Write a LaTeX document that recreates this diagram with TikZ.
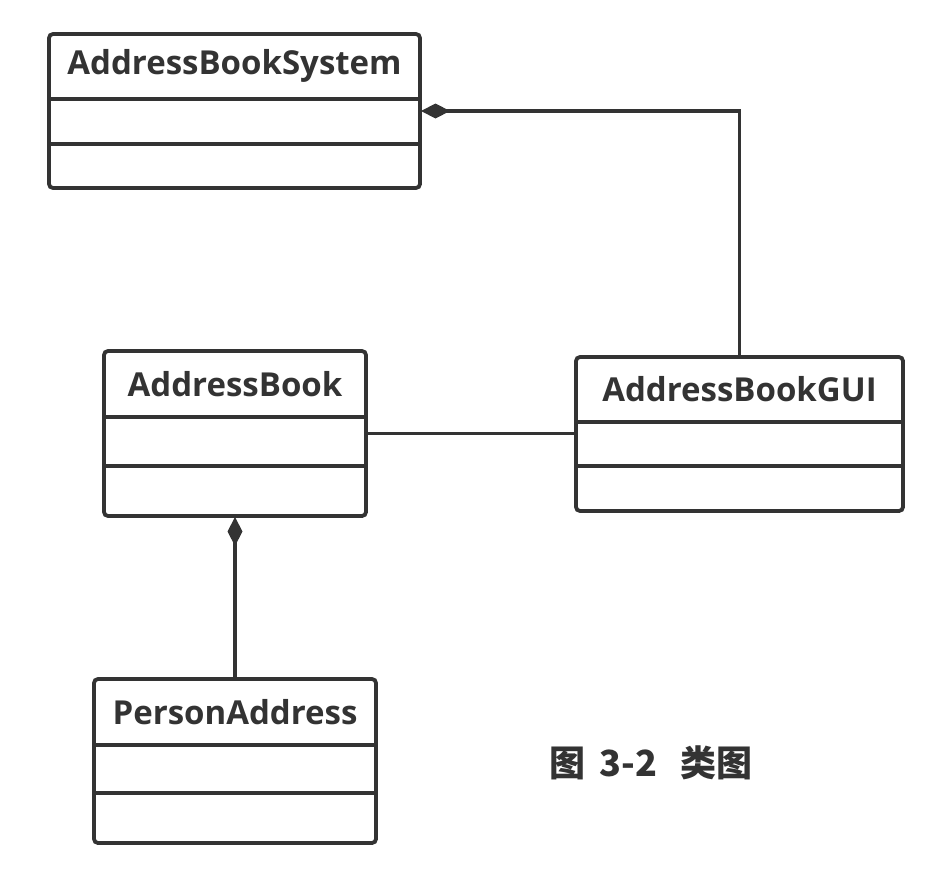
\documentclass[tikz,border=0pt]{standalone}
\usepackage{fontspec}
\setmainfont{Open Sans}
\newfontfamily\cjk{Noto Sans CJK SC}
\usetikzlibrary{arrows.meta,calc}
\definecolor{ink}{HTML}{333333}
\tikzset{
  umlbox/.style={draw=ink, line width=3.8pt, rounded corners=4pt, outer sep=0pt, inner sep=0pt, fill=white},
  divider/.style={draw=ink, line width=3.8pt},
  title/.style={text=ink, font=\fontsize{33}{40}\selectfont\bfseries, inner sep=0pt, anchor=center},
  link/.style={draw=ink, line width=3.6pt},
  comp/.style={link, -{Diamond[length=29pt, width=15pt, line join=miter]}, shorten >=1pt},
}
\begin{document}
\begin{tikzpicture}[x=1pt,y=-1pt]
\useasboundingbox (0,0) rectangle (946,878);
% AddressBookSystem
\node[umlbox, minimum width=371pt, minimum height=154pt] (sys) at (234.5,111) {};
\draw[divider] (49,99) -- (420,99);
\draw[divider] (49,144) -- (420,144);
\node[title] (sysT) at (234.5,66) {AddressBookSystem};
% AddressBook
\node[umlbox, minimum width=262pt, minimum height=165pt] (book) at (235,433.5) {};
\draw[divider] (104,417) -- (366,417);
\draw[divider] (104,466) -- (366,466);
\node[title] (bookT) at (235,384) {AddressBook};
% AddressBookGUI
\node[umlbox, minimum width=327pt, minimum height=154pt] (gui) at (739.5,434) {};
\draw[divider] (576,422) -- (903,422);
\draw[divider] (576,466) -- (903,466);
\node[title] (guiT) at (739.5,389) {AddressBookGUI};
% PersonAddress
\node[umlbox, minimum width=282pt, minimum height=164pt] (pa) at (235,761) {};
\draw[divider] (94,745) -- (376,745);
\draw[divider] (94,793) -- (376,793);
\node[title] (paT) at (235,712) {PersonAddress};
% connectors
\draw[comp] (gui.north) |- (sys.east);
\draw[link] (book.east) -- (book.east -| gui.west);
\draw[comp] (pa.north) -- (book.south);
% caption
\node[text=ink, font=\cjk\fontsize{36}{42}\selectfont\bfseries, inner sep=0pt] (cap) at (651,763) {图\hspace{0.4em}3-2\hspace{0.65em}类图};
\end{tikzpicture}
\end{document}
